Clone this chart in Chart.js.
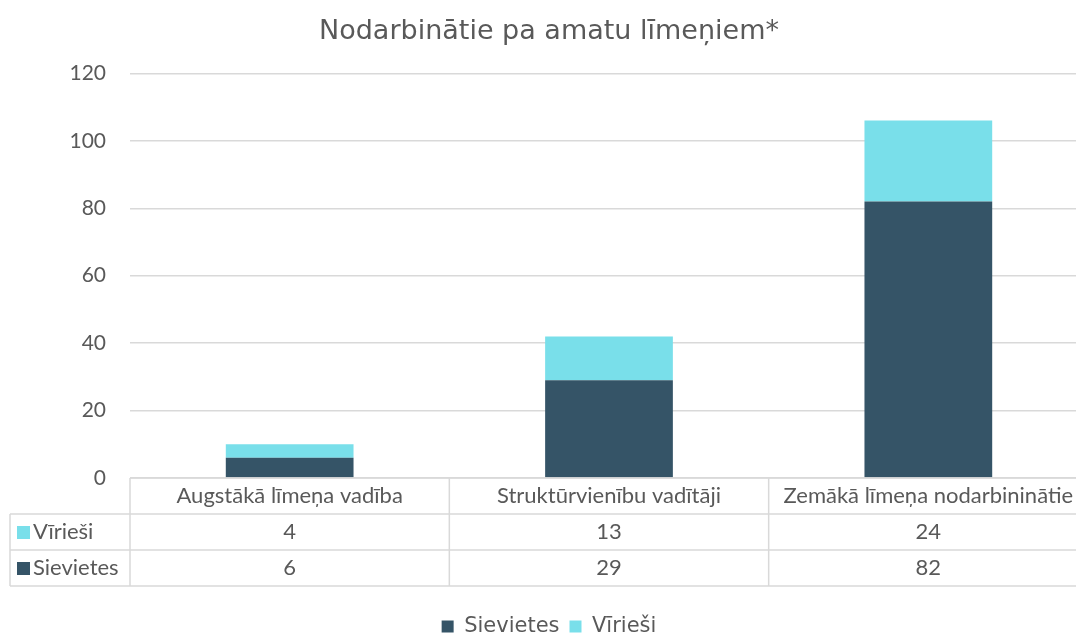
<!DOCTYPE html>
<html>
<head>
<meta charset="utf-8">
<script src="https://cdn.jsdelivr.net/npm/chart.js@4.4.1/dist/chart.umd.min.js"></script>
<style>
  html, body { margin: 0; padding: 0; background: #fff; overflow: hidden; }
  #wrap { width: 1090px; height: 635px; }
</style>
</head>
<body>
<div id="wrap"><canvas id="chart"></canvas></div>
<script>
// data
const categories = ["Augstākā līmeņa vadība", "Struktūrvienību vadītāji", "Zemākā līmeņa nodarbininātie"];
const sievietes = [6, 29, 82];
const virieshi = [4, 13, 24];
const yTicks = [0, 20, 40, 60, 80, 100, 120];

const DARK = "#355467";
const LIGHT = "#79DFEA";
const TEXT = "#595959";
const GRID = "#d9d9d9";
const tableFont = "22px Lato, 'Open Sans', sans-serif";

// Data table under the plot, drawn from the x scale
const dataTable = {
    id: "dataTable",
    afterDraw(chart) {
        const ctx = chart.ctx;
        const area = chart.chartArea;
        const x = chart.scales.x;
        const rowH = 36;
        const top = area.bottom;
        const left = 10;
        const n = categories.length;
        const cellW = (area.right - area.left) / n;
        const rows = [
            { label: "Vīrieši", color: LIGHT, values: virieshi },
            { label: "Sievietes", color: DARK, values: sievietes }
        ];

        ctx.save();
        ctx.strokeStyle = GRID;
        ctx.lineWidth = 1.5;
        ctx.beginPath();
        // horizontal lines
        ctx.moveTo(area.left, top); ctx.lineTo(area.right, top);
        for (let r = 1; r <= 3; r++) {
            ctx.moveTo(left, top + r * rowH); ctx.lineTo(area.right, top + r * rowH);
        }
        // vertical lines
        ctx.moveTo(left, top + rowH); ctx.lineTo(left, top + 3 * rowH);
        for (let i = 0; i <= n; i++) {
            const vx = area.left + i * cellW;
            ctx.moveTo(vx, top); ctx.lineTo(vx, top + 3 * rowH);
        }
        ctx.stroke();

        ctx.font = tableFont;
        ctx.fillStyle = TEXT;
        ctx.textBaseline = "middle";
        ctx.textAlign = "center";
        categories.forEach((c, i) => {
            ctx.fillText(c, x.getPixelForValue(i), top + rowH / 2);
        });
        rows.forEach((row, r) => {
            const cy = top + (r + 1) * rowH + rowH / 2;
            ctx.textAlign = "center";
            ctx.fillStyle = TEXT;
            row.values.forEach((v, i) => {
                ctx.fillText(String(v), x.getPixelForValue(i), cy);
            });
            ctx.fillStyle = row.color;
            ctx.fillRect(17, cy - 6, 13, 13);
            ctx.fillStyle = TEXT;
            ctx.textAlign = "left";
            ctx.fillText(row.label, 33, cy);
        });
        ctx.restore();
    }
};

const ctx = document.getElementById("chart").getContext("2d");
new Chart(ctx, {
    type: "bar",
    data: {
        labels: categories,
        datasets: [
            { label: "Sievietes", data: sievietes, backgroundColor: DARK },
            { label: "Vīrieši", data: virieshi, backgroundColor: LIGHT }
        ]
    },
    options: {
        responsive: true,
        maintainAspectRatio: false,
        animation: false,
        layout: { padding: { left: 10, right: 2, top: 0, bottom: -12 } },
        datasets: {
            bar: { barPercentage: 0.4, categoryPercentage: 1 }
        },
        plugins: {
            title: {
                display: true,
                text: "Nodarbinātie pa amatu līmeņiem*",
                color: TEXT,
                font: { family: "'DejaVu Sans', Verdana, sans-serif", size: 27, weight: "normal" },
                padding: { top: 16, bottom: 25 }
            },
            legend: {
                position: "bottom",
                labels: {
                    color: TEXT,
                    font: { family: "'DejaVu Sans', Verdana, sans-serif", size: 21 },
                    boxWidth: 12,
                    boxHeight: 12,
                    padding: 10
                }
            },
            tooltip: { enabled: false }
        },
        scales: {
            x: {
                stacked: true,
                grid: { display: false },
                border: { display: false },
                ticks: { display: false },
                afterFit(scale) { scale.height = 128; }
            },
            y: {
                stacked: true,
                min: 0,
                max: 120,
                afterBuildTicks(scale) { scale.ticks = yTicks.map(v => ({ value: v })); },
                grid: { color: GRID, lineWidth: 1.5, drawTicks: false },
                border: { display: false },
                ticks: {
                    color: TEXT,
                    padding: 24,
                    font: { family: "Lato, 'Open Sans', sans-serif", size: 21 }
                },
                afterFit(scale) { scale.width = 120; }
            }
        }
    },
    plugins: [dataTable]
});
</script>
</body>
</html>
